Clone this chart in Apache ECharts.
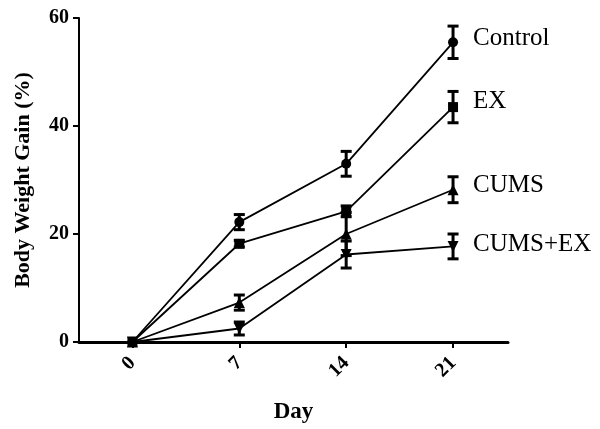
<!DOCTYPE html>
<html>
<head>
<meta charset="utf-8">
<script src="https://cdn.jsdelivr.net/npm/echarts@6/dist/echarts.min.js"></script>
<style>html,body{margin:0;padding:0;background:#fff}#c{width:600px;height:429px}</style>
</head>
<body>
<div id="c"></div>
<script>
const days = [0, 7, 14, 21];
const xTicks = [0, 7, 14, 21];
const yTicks = [0, 20, 40, 60];
const groupNames = ['Control', 'EX', 'CUMS', 'CUMS+EX'];
const control = [0, 22.2, 33.0, 55.5];
const controlErr = [0, 1.4, 2.3, 3.0];
const ex = [0, 18.2, 24.2, 43.5];
const exErr = [0, 0.6, 1.0, 2.9];
const cums = [0, 7.3, 20.0, 28.2];
const cumsErr = [0, 1.4, 4.0, 2.4];
const cumsEx = [0, 2.5, 16.2, 17.7];
const cumsExErr = [0, 1.2, 2.5, 2.3];

const means = [control, ex, cums, cumsEx];
const errs = [controlErr, exErr, cumsErr, cumsExErr];
const symbols = ['circle', 'rect', 'triangle', 'triangle'];
const rotates = [0, 0, 0, 180];
const sizes = [10, 10, 11, 11];
const labelOffsets = [[0, -4], [0, -6], [0, -4], [0, -2]];
const serif = '"Liberation Serif", "DejaVu Serif", serif';

const series = [];
means.forEach((m, i) => {
  series.push({
    name: groupNames[i],
    type: 'line',
    data: days.map((d, j) => [d, m[j]]),
    symbol: symbols[i],
    symbolSize: sizes[i],
    symbolRotate: rotates[i],
    showAllSymbol: true,
    lineStyle: { color: '#000', width: 1.8 },
    itemStyle: { color: '#000' },
    z: 3,
    animation: false,
    endLabel: {
      show: true,
      formatter: '{a}',
      distance: 20,
      offset: labelOffsets[i],
      color: '#000',
      fontFamily: serif,
      fontSize: 25
    }
  });
  const errData = days.map((d, j) => [d, m[j] - errs[i][j], m[j] + errs[i][j]]).filter((r, j) => errs[i][j] > 0);
  series.push({
    type: 'custom',
    data: errData,
    z: 4,
    animation: false,
    renderItem: function (params, api) {
      const x = api.value(0);
      const lo = api.coord([x, api.value(1)]);
      const hi = api.coord([x, api.value(2)]);
      const hw = 5.5;
      const st = { stroke: '#000', lineWidth: 3 };
      return {
        type: 'group',
        children: [
          { type: 'line', shape: { x1: lo[0], y1: lo[1], x2: hi[0], y2: hi[1] }, style: st },
          { type: 'line', shape: { x1: lo[0] - hw, y1: lo[1], x2: lo[0] + hw, y2: lo[1] }, style: st },
          { type: 'line', shape: { x1: hi[0] - hw, y1: hi[1], x2: hi[0] + hw, y2: hi[1] }, style: st }
        ]
      };
    },
    encode: { x: 0, y: [1, 2] }
  });
});

const chart = echarts.init(document.getElementById('c'));
chart.setOption({
  backgroundColor: '#fff',
  animation: false,
  grid: { left: 79, right: 92, top: 18, bottom: 86, containLabel: false },
  xAxis: {
    type: 'value',
    min: -3.5,
    max: 24.6,
    name: 'Day',
    nameLocation: 'middle',
    nameGap: 59,
    nameTextStyle: { fontFamily: serif, fontWeight: 'bold', fontSize: 23, color: '#000' },
    axisLine: { show: true, onZero: false, lineStyle: { color: '#000', width: 3 } },
    axisTick: { show: true, customValues: xTicks, length: 6, lineStyle: { color: '#000', width: 2 } },
    axisLabel: { customValues: xTicks, rotate: 45, margin: 18, fontFamily: serif, fontWeight: 'bold', fontSize: 20, color: '#000' },
    splitLine: { show: false }
  },
  yAxis: {
    type: 'value',
    min: 0,
    max: 60,
    interval: 20,
    name: 'Body Weight Gain (%)',
    nameLocation: 'middle',
    nameGap: 45,
    nameTextStyle: { fontFamily: serif, fontWeight: 'bold', fontSize: 22, color: '#000' },
    axisLine: { show: true, onZero: false, lineStyle: { color: '#000', width: 2 } },
    axisTick: { show: true, length: 6, lineStyle: { color: '#000', width: 2 } },
    axisLabel: { margin: 10, fontFamily: serif, fontWeight: 'bold', fontSize: 20, color: '#000' },
    splitLine: { show: false }
  },
  series: series
});
</script>
</body>
</html>
